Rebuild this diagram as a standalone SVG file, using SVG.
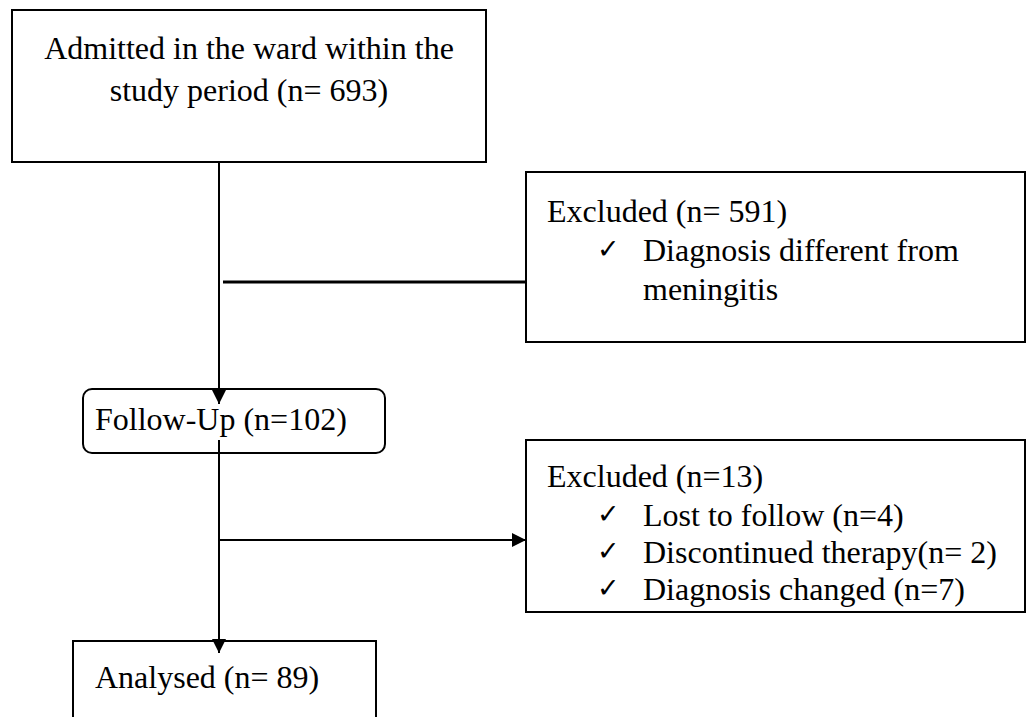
<svg xmlns="http://www.w3.org/2000/svg" width="1033" height="717" viewBox="0 0 1033 717">
<style>
.box{fill:#fff;stroke:#000;stroke-width:2}
.t{font-family:"Liberation Serif","Times New Roman",serif;font-size:32px;fill:#000}
.ck{font-family:"DejaVu Sans",sans-serif;font-size:27px;fill:#000}
.ln{stroke:#000;stroke-width:2;fill:none}
</style>
<defs>
<marker id="ah" markerWidth="14" markerHeight="14" refX="14" refY="7" orient="auto" markerUnits="userSpaceOnUse">
<path d="M0,0 L14,7 L0,14 Z" fill="#000"/>
</marker>
</defs>
<rect width="1033" height="717" fill="#fff"/>
<g id="admitted">
<rect class="box" x="12" y="10" width="474" height="152"/>
<text class="t" x="249" y="59" text-anchor="middle">Admitted in the ward within the</text>
<text class="t" x="249" y="101" text-anchor="middle">study period (n= 693)</text>
</g>
<g id="excluded1">
<rect class="box" x="526" y="172" width="499" height="170"/>
<text class="t" x="547" y="222">Excluded (n= 591)</text>
<text class="ck" x="597" y="258">✓</text>
<text class="t" x="643" y="261">Diagnosis different from</text>
<text class="t" x="643" y="300">meningitis</text>
</g>
<g id="followup">
<rect class="box" x="83" y="389" width="302" height="64" rx="9" ry="9"/>
<text class="t" x="95" y="430">Follow-Up (n=102)</text>
</g>
<g id="excluded2">
<rect class="box" x="526" y="440" width="499" height="172"/>
<text class="t" x="547" y="487">Excluded (n=13)</text>
<text class="ck" x="597" y="523">✓</text>
<text class="t" x="643" y="526">Lost to follow (n=4)</text>
<text class="ck" x="597" y="560">✓</text>
<text class="t" x="643" y="563">Discontinued therapy(n= 2)</text>
<text class="ck" x="597" y="597">✓</text>
<text class="t" x="643" y="600">Diagnosis changed (n=7)</text>
</g>
<g id="analysed">
<rect class="box" x="73" y="641" width="303" height="90"/>
<text class="t" x="95" y="688">Analysed (n= 89)</text>
</g>
<g id="connectors">
<line class="ln" x1="219" y1="162" x2="219" y2="404" marker-end="url(#ah)"/>
<line class="ln" x1="223" y1="282" x2="526" y2="282" style="stroke-width:3"/>
<line class="ln" x1="219" y1="440" x2="219" y2="653" marker-end="url(#ah)"/>
<line class="ln" x1="219" y1="540" x2="526" y2="540" marker-end="url(#ah)"/>
</g>
</svg>
